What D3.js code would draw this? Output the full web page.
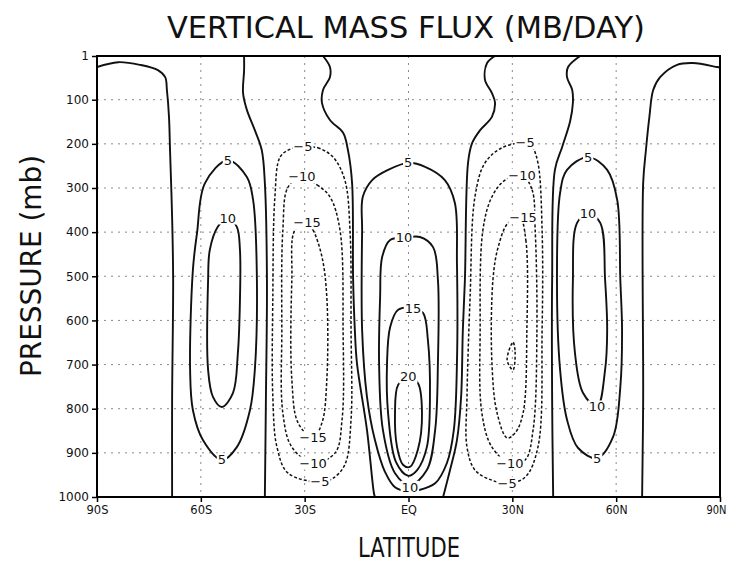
<!DOCTYPE html>
<html><head><meta charset="utf-8">
<script src="https://cdn.jsdelivr.net/npm/d3@7"></script>
<style>body{margin:0;background:#fff}svg{display:block}</style>
</head><body>
<svg id="c" width="731" height="564"></svg>
<script>
// ---- data (latitude in degrees, pressure in mb) ----
const latTicks = [-90,-60,-30,0,30,60,90];
const latTickLabels = ["90S","60S","30S","EQ","30N","60N","90N"];
const presTicks = [1,100,200,300,400,500,600,700,800,900,1000];
const gridLat = [-60,-30,0,30,60];
const gridPres = [100,200,300,400,500,600,700,800,900];

// zero contours (open)
const zero1 = [[-90,26],[-83.9,15],[-77.6,21],[-72.4,33],[-70.3,49],[-69.8,78],[-69.2,139],[-68.9,214],[-68.3,366],[-68.0,508],[-68.3,780],[-68.3,1000]];
const zero2 = [[-47.5,1],[-47.5,33],[-47.8,85],[-46.7,123],[-44.4,169],[-42.4,214],[-41.5,289],[-40.9,508],[-41.2,780],[-41.5,1000]];
const zero3 = [[-24.7,1],[-22.7,26],[-22.7,49],[-24.7,78],[-25.0,107],[-22.7,146],[-18.9,175],[-17.5,214],[-16.3,289],[-16.0,508],[-15.5,622],[-14.9,696],[-12.0,848],[-10.0,991],[-9.7,1000]];
const zero4 = [[25.0,1],[22.7,17],[22.1,55],[24.1,85],[25.0,107],[24.1,139],[20.7,169],[18.4,198],[17.2,243],[16.3,508],[15.7,622],[15.2,773],[14.0,871],[12.0,939],[10.0,1000]];
const zero5 = [[49.6,1],[46.1,26],[45.8,49],[47.3,78],[47.5,107],[46.7,149],[44.4,207],[42.3,259],[41.5,508],[41.5,780],[41.8,1000]];
const zero6 = [[67.5,1000],[67.8,780],[67.8,289],[68.6,214],[69.6,139],[70.7,78],[72.7,49],[77.6,21],[82.2,17],[89.2,26],[90,27]];

// closed positive contours
const sh5  = [[-52.2,237],[-46.7,275],[-44.9,327],[-43.8,508],[-44.4,712],[-45.8,803],[-49.6,887],[-53.9,916],[-59.4,871],[-62.3,803],[-63.1,712],[-62.3,486],[-61.1,402],[-58.8,289]];
const sh10 = [[-52.2,368],[-49.6,388],[-48.7,440],[-48.7,554],[-49.3,674],[-50.7,764],[-53.9,796],[-56.5,773],[-57.9,712],[-57.9,508],[-57.4,440],[-55.1,388]];
const nh5  = [[51.9,230],[57.4,259],[60.3,327],[61.2,508],[61.7,622],[61.2,751],[59.1,864],[54.5,912],[49.0,889],[45.8,825],[43.8,712],[42.9,508],[43.8,311],[45.8,259]];
const nh10 = [[51.9,357],[55.4,379],[56.8,508],[57.4,622],[56.8,712],[54.5,796],[50.4,764],[48.1,674],[47.5,508],[48.7,379]];
const eq5  = [[-0.1,243],[4.8,252],[10.5,282],[13.4,334],[14.0,470],[14.0,696],[13.1,848],[11.1,923],[7.7,969],[2.7,985],[-0.1,987],[-3.9,978],[-6.8,943],[-9.7,871],[-12.0,773],[-13.4,622],[-13.4,395],[-13.2,320],[-10.5,282],[-5.9,259]];
const eq10 = [[-1.3,413],[3.3,411],[7.1,434],[8.5,508],[8.5,696],[7.7,848],[5.3,939],[0.4,973],[-3.9,946],[-7.4,848],[-8.5,696],[-8.2,547],[-7.6,456],[-5.3,418]];
const eq15 = [[1.3,572],[4.2,583],[5.6,644],[6.2,773],[5.3,887],[2.5,939],[-0.1,952],[-3.6,921],[-5.9,810],[-6.2,696],[-5.3,615],[-3.0,576]];
const eq20 = [[-0.1,728],[2.7,742],[3.9,810],[2.7,893],[0.4,932],[-1.6,927],[-3.3,887],[-3.9,810],[-3.0,746]];

// closed negative contours
const shm5  = [[-30.5,207],[-26.2,209],[-21.8,230],[-18.4,282],[-16.9,395],[-16.6,622],[-16.6,825],[-18.4,927],[-22.1,959],[-25.6,966],[-34.8,946],[-38.0,887],[-39.2,773],[-39.2,547],[-38.6,320],[-37.1,230],[-34.2,212]];
const shm10 = [[-30.8,275],[-26.4,293],[-22.7,320],[-19.8,395],[-18.9,622],[-19.2,825],[-21.2,900],[-27.6,923],[-33.7,887],[-36.3,810],[-36.6,622],[-36.3,395],[-34.8,298]];
const shm15 = [[-29.3,379],[-27.6,395],[-25.0,456],[-23.6,547],[-23.6,735],[-25.0,832],[-27.6,866],[-31.9,832],[-33.7,735],[-33.7,508],[-32.8,395]];
const nhm5  = [[33.7,198],[35.7,207],[37.4,243],[38.6,395],[38.6,622],[37.4,887],[33.7,955],[28.5,969],[24.1,962],[19.2,939],[16.9,887],[16.9,773],[17.8,547],[19.2,320],[22.1,243],[27.0,209]];
const nhm10 = [[32.8,271],[35.7,304],[36.6,395],[37.1,622],[36.0,848],[33.7,916],[29.3,923],[24.1,887],[21.2,810],[20.7,622],[21.5,395],[24.1,320],[27.9,282]];
const nhm15 = [[32.2,368],[33.9,418],[34.2,622],[33.1,810],[30.8,855],[28.5,866],[25.6,810],[24.1,696],[24.4,508],[25.9,434],[28.8,379]];
const nhm20 = [[30.2,649],[30.8,671],[30.2,712],[28.5,690]];

// contour labels: [value, lat, pressure]
const contourLabels = [
  [5,-52.2,237],[10,-52.2,368],[5,-53.9,916],
  [-5,-30.5,207],[-10,-30.8,275],[-15,-29.3,379],[-15,-27.6,866],[-10,-27.6,923],[-5,-25.6,966],
  [5,-0.1,243],[10,-1.3,413],[15,1.3,572],[20,-0.1,728],[10,0.4,978],
  [-5,33.7,198],[-10,32.8,271],[-15,33.1,366],[-10,29.3,923],[-5,28.5,969],
  [5,51.9,230],[10,51.9,357],[10,54.5,796],[5,54.5,912]
];

const openContours = [zero1,zero2,zero3,zero4,zero5,zero6];
const closedPositive = [sh5,sh10,nh5,nh10,eq5,eq10,eq15,eq20];
const closedNegative = [shm5,shm10,shm15,nhm5,nhm10,nhm15,nhm20];

// ---- drawing ----
const svg = d3.select("#c");
const L=97,R=720,T=56,B=497;
const x = d3.scaleLinear().domain([-90,90]).range([L,R]);
const y = d3.scaleLinear().domain([1,1000]).range([T,B]);
const font = "'DejaVu Sans', sans-serif";

svg.append("rect").attr("width",731).attr("height",564).attr("fill","#fff");

// grid
const g = svg.append("g");
g.selectAll("line.h").data(gridPres).enter().append("line")
  .attr("x1",L).attr("x2",R).attr("y1",d=>y(d)).attr("y2",d=>y(d))
  .attr("stroke","#8a8a8a").attr("stroke-width",1).attr("stroke-dasharray","2,5");
g.selectAll("line.v").data(gridLat).enter().append("line")
  .attr("y1",T).attr("y2",B).attr("x1",d=>x(d)).attr("x2",d=>x(d))
  .attr("stroke","#8a8a8a").attr("stroke-width",1).attr("stroke-dasharray","2,5");

svg.append("clipPath").attr("id","pc").append("rect")
  .attr("x",L).attr("y",T).attr("width",R-L).attr("height",B-T);
const cg = svg.append("g").attr("clip-path","url(#pc)");

const lineOpen = d3.line().x(d=>x(d[0])).y(d=>y(d[1])).curve(d3.curveCatmullRom.alpha(0.5));
const lineClosed = d3.line().x(d=>x(d[0])).y(d=>y(d[1])).curve(d3.curveCatmullRomClosed.alpha(0.5));

cg.selectAll("path.z").data(openContours).enter().append("path")
  .attr("d",lineOpen).attr("fill","none").attr("stroke","#111").attr("stroke-width",1.9);
cg.selectAll("path.p").data(closedPositive).enter().append("path")
  .attr("d",lineClosed).attr("fill","none").attr("stroke","#111").attr("stroke-width",1.9);
cg.selectAll("path.n").data(closedNegative).enter().append("path")
  .attr("d",lineClosed).attr("fill","none").attr("stroke","#111").attr("stroke-width",1.5)
  .attr("stroke-dasharray","3,2");

// contour labels
const lg = svg.append("g");
contourLabels.forEach(([v,la,p])=>{
  const t = lg.append("text").attr("x",x(la)).attr("y",y(p))
    .attr("text-anchor","middle").attr("dominant-baseline","central")
    .attr("font-family",font).attr("font-size",13).attr("fill","#111")
    .text(v<0 ? "\u2212"+Math.abs(v) : String(v));
  const bb = t.node().getBBox();
  lg.insert("rect","text:last-child").attr("x",bb.x-1).attr("y",bb.y+1).attr("width",bb.width+2).attr("height",bb.height-2).attr("fill","#fff");
});

// frame
svg.append("rect").attr("x",L).attr("y",T).attr("width",R-L).attr("height",B-T)
  .attr("fill","none").attr("stroke","#000").attr("stroke-width",2);

// axes
const ya = svg.append("g").attr("transform",`translate(${L},0)`)
  .call(d3.axisLeft(y).tickValues(presTicks).tickSize(5).tickPadding(3).tickFormat(d3.format("d")));
const xa = svg.append("g").attr("transform",`translate(0,${B})`)
  .call(d3.axisBottom(x).tickValues(latTicks).tickSize(5).tickPadding(3).tickFormat((d,i)=>latTickLabels[i]));
[ya,xa].forEach(a=>{
  a.select(".domain").remove();
  a.selectAll(".tick line").attr("stroke","#000").attr("stroke-width",1.5);
  a.selectAll(".tick text").attr("font-family",font).attr("font-size",12).attr("fill","#111");
});
xa.selectAll(".tick text").attr("textLength",22).attr("lengthAdjust","spacingAndGlyphs");
xa.selectAll(".tick").filter(d=>d===0).select("text").attr("textLength",16);
xa.selectAll(".tick").filter(d=>d===90).select("text").attr("x",-4).attr("textLength",20);

// titles
svg.append("text").attr("x",406).attr("y",38).attr("text-anchor","middle")
  .attr("font-family",font).attr("font-size",31).attr("fill","#111")
  .attr("textLength",478).attr("lengthAdjust","spacingAndGlyphs")
  .text("VERTICAL MASS FLUX (MB/DAY)");
svg.append("text").attr("x",409).attr("y",557).attr("text-anchor","middle")
  .attr("font-family",font).attr("font-size",26).attr("fill","#111")
  .attr("textLength",102).attr("lengthAdjust","spacingAndGlyphs")
  .text("LATITUDE");
svg.append("text").attr("transform","translate(41,266) rotate(-90)").attr("text-anchor","middle")
  .attr("font-family",font).attr("font-size",28).attr("fill","#111")
  .attr("textLength",222).attr("lengthAdjust","spacingAndGlyphs")
  .text("PRESSURE (mb)");
</script>
</body></html>
